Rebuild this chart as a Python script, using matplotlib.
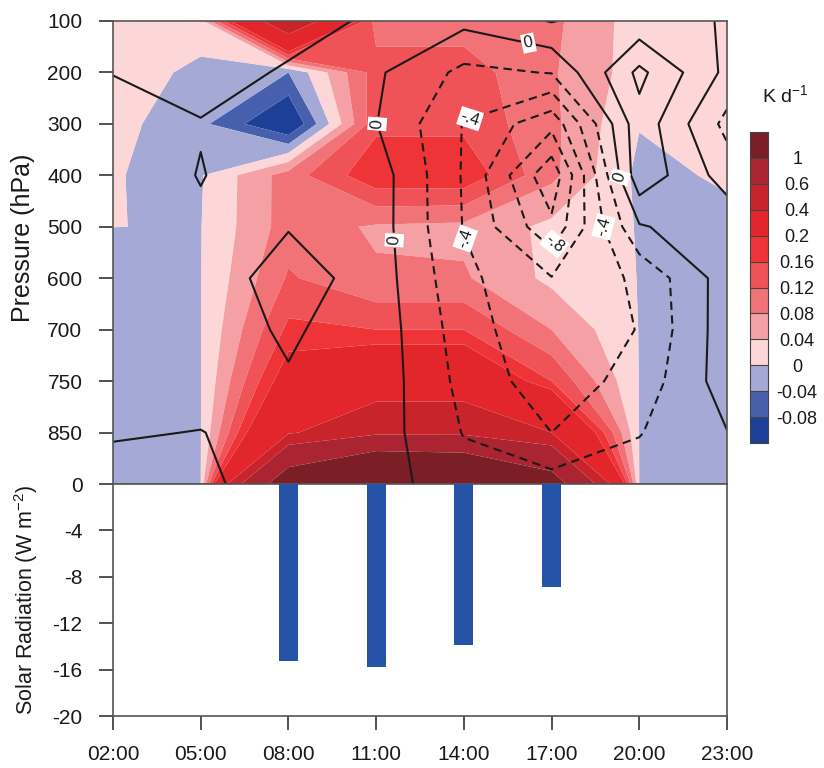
import numpy as np
import matplotlib
matplotlib.use("Agg")
import matplotlib.pyplot as plt
from matplotlib import font_manager as fm
from matplotlib.colors import ListedColormap, BoundaryNorm
from matplotlib.cm import ScalarMappable

# ---------------- data ----------------
times = [2, 5, 8, 11, 14, 17, 20, 23]
time_labels = ["02:00", "05:00", "08:00", "11:00", "14:00", "17:00", "20:00", "23:00"]
pressure_labels = ["100", "200", "300", "400", "500", "600", "700", "750", "850"]
n_rows = 10  # 9 labelled pressure levels + surface row

# heating rate (K/d), rows = levels (100 hPa ... surface), cols = times
heating_100 = [0.02, 0.02, 0.55, 0.10, 0.10, 0.09, 0.02, 0.02]
heating_200 = [0.02, -0.009, -0.04, 0.14, 0.14, 0.085, 0.02, 0.02]
heating_300 = [0.015, -0.03, -0.13, 0.15, 0.15, 0.09, 0.002, 0.01]
heating_400 = [0.0005, -0.003, 0.10, 0.19, 0.19, 0.09, -0.01, 0.005]
heating_500 = [0.0002, -0.001, 0.10, 0.075, 0.07, 0.03, -0.002, -0.01]
heating_600 = [-0.02, -0.001, 0.125, 0.085, 0.085, 0.03, -0.001, -0.02]
heating_700 = [-0.02, -0.001, 0.17, 0.16, 0.16, 0.08, -0.001, -0.02]
heating_750 = [-0.02, -0.001, 0.24, 0.30, 0.30, 0.16, -0.001, -0.02]
heating_850 = [-0.02, -0.001, 0.38, 0.55, 0.55, 0.40, -0.001, -0.02]
heating_sfc = [-0.02, -0.001, 1.30, 1.80, 1.70, 1.20, -0.001, -0.02]

# contour-line field
lines_100 = [0.25, 0.30, 0.24, 0.184, 0.05, 0.21, 0.06, -0.01]
lines_200 = [0.205, 0.244, 0.188, 0.03, -0.25, -0.19, 0.45, -0.05]
lines_300 = [0.12, 0.194, 0.13, 0.005, -0.41, -0.74, 0.33, -0.26]
lines_400 = [0.127, 0.205, 0.127, 0.105, -0.42, -1.15, 0.34, -0.09]
lines_500 = [0.15, 0.181, 0.189, 0.10, -0.41, -0.95, -0.02, 0.14]
lines_600 = [0.15, 0.073, 0.30, 0.108, -0.35, -0.59, -0.36, 0.10]
lines_700 = [0.15, 0.125, 0.22, 0.12, -0.30, -0.58, -0.39, 0.11]
lines_750 = [0.16, 0.15, 0.188, 0.12, -0.26, -0.52, -0.32, 0.10]
lines_850 = [0.19, 0.203, 0.15, 0.10, -0.21, -0.40, -0.21, -0.005]
lines_sfc = [0.246, 0.24, 0.10, 0.08, -0.11, -0.12, -0.10, -0.05]

# solar radiation bars
sw_times = [8, 11, 14, 17]
sw_values = [-15.3, -15.8, -13.9, -8.9]

fill_levels = [-0.08, -0.04, 0, 0.04, 0.08, 0.12, 0.16, 0.2, 0.4, 0.6, 1]
fill_level_labels = ["-0.08", "-0.04", "0", "0.04", "0.08", "0.12", "0.16",
                     "0.2", "0.4", "0.6", "1"]
fill_colors = ["#1c3f98", "#4760ad", "#a4aad5", "#fdd6d7", "#f5a0a5", "#f17377",
               "#ef5358", "#ef3438", "#e2262b", "#c9232b", "#aa2531", "#7b1e26"]
plain_line_levels = [-1.2, -1.0, -0.6, -0.2, 0.2, 0.4]
labelled_levels = [-0.8, -0.4, 0.0]

# ---------------- fonts ----------------
names = {f.name for f in fm.fontManager.ttflist}
regular = "Liberation Sans" if "Liberation Sans" in names else "DejaVu Sans"
plt.rcParams["font.family"] = [regular, "DejaVu Sans"]
plt.rcParams["axes.unicode_minus"] = False
plt.rcParams["mathtext.fontset"] = "custom"
plt.rcParams["mathtext.rm"] = regular
plt.rcParams["mathtext.it"] = regular

heating = np.array([heating_100, heating_200, heating_300, heating_400, heating_500,
                    heating_600, heating_700, heating_750, heating_850, heating_sfc])
lines = np.array([lines_100, lines_200, lines_300, lines_400, lines_500,
                  lines_600, lines_700, lines_750, lines_850, lines_sfc])
rows = np.arange(n_rows)

W, H = 824, 768
fig = plt.figure(figsize=(W / 100, H / 100), dpi=100)
L, R = 113, 727
ax1 = fig.add_axes([L / W, 1 - 484 / H, (R - L) / W, (484 - 21) / H])
ax2 = fig.add_axes([L / W, 1 - 716 / H, (R - L) / W, (716 - 484) / H])

# filled contours
ax1.contourf(times, rows, heating, levels=[-100] + fill_levels + [100], colors=fill_colors,
             antialiased=True)
DASH = (0, (4.0, 2.6))
ax1.contour(times, rows, lines, levels=plain_line_levels, colors="#1a1a1a", linewidths=1.5,
            linestyles=["-" if lv >= 0 else DASH for lv in plain_line_levels])
cs = ax1.contour(times, rows, lines, levels=labelled_levels, colors="#1a1a1a", linewidths=1.5,
                 linestyles=["-" if lv >= 0 else DASH for lv in labelled_levels])


def fmt(v):
    v = round(float(v), 1)
    if v == 0:
        return "0"
    return f"{v:.1f}".replace("0.", ".")


def to_data(px, py):
    return (2 + (px - L) / ((R - L) / 21.0), (py - 21) / ((484 - 21) / 9.0))


label_px = [(528, 45), (355, 125), (398, 240), (618, 178),
            (470, 118), (462, 240), (598, 228), (553, 243)]
texts = ax1.clabel(cs, fmt=fmt, inline=True, inline_spacing=3, fontsize=12,
                   manual=[to_data(*p) for p in label_px])
for t in texts:
    t.set_bbox(dict(facecolor="white", edgecolor="none", pad=1.5))

TICK_C = "#222222"
ax1.set_xlim(2, 23)
ax1.set_ylim(n_rows - 1, 0)
ax1.set_xticks([])
ax1.set_yticks(rows[:len(pressure_labels)])
ax1.set_yticklabels(pressure_labels)
ax1.tick_params(axis="y", direction="out", length=10, width=1.1, labelsize=15, pad=12,
                colors=TICK_C, labelcolor="#1a1a1a")
for s in ax1.spines.values():
    s.set_color("#555555")
    s.set_linewidth(1.2)
ax1.set_ylabel("Pressure (hPa)", fontsize=18, color="#1a1a1a")
ax1.yaxis.set_label_coords((35 - L) / (R - L), (484 - 238) / (484 - 21))

# bars
ax2.bar(sw_times, sw_values, width=0.65, color="#2553a8", zorder=3)
ax2.set_xlim(2, 23)
ax2.set_ylim(-20, 0)
ax2.set_yticks(np.arange(0, -21, -4))
ax2.set_yticklabels([str(v) for v in np.arange(0, -21, -4)])
ax2.set_xticks(times)
ax2.set_xticklabels(time_labels)
ax2.tick_params(direction="out", length=10, width=1.1, labelsize=15, pad=12,
                colors=TICK_C, labelcolor="#1a1a1a")
ax2.tick_params(axis="x", pad=11)
for s in ax2.spines.values():
    s.set_color("#555555")
    s.set_linewidth(1.2)
ax2.set_ylabel("Solar Radiation (W m$^{-2}$)", fontsize=15.5, color="#1a1a1a")
ax2.yaxis.set_label_coords((40 - L) / (R - L), 0.5)

# colorbar
cax = fig.add_axes([750 / W, 1 - 443 / H, 18 / W, (443 - 132) / H])
bounds = [-0.12] + fill_levels + [1.4]
sm = ScalarMappable(norm=BoundaryNorm(bounds, len(fill_colors)), cmap=ListedColormap(fill_colors))
cb = fig.colorbar(sm, cax=cax, spacing="uniform", ticks=fill_levels, drawedges=True)
cb.ax.minorticks_off()
cb.ax.set_yticklabels(fill_level_labels)
cb.ax.tick_params(which="both", length=0, width=0, labelsize=13, pad=21, labelcolor="#1a1a1a")
for t in cb.ax.get_yticklabels():
    t.set_ha("center")
cb.outline.set_edgecolor("#444444")
cb.outline.set_linewidth(0.8)
cb.dividers.set_color("#444444")
cb.dividers.set_linewidth(0.8)
fig.text(785 / W, 1 - 95 / H, "K d$^{-1}$", ha="center", va="center", fontsize=14,
         color="#1a1a1a")

fig.savefig("out.png", dpi=100)
